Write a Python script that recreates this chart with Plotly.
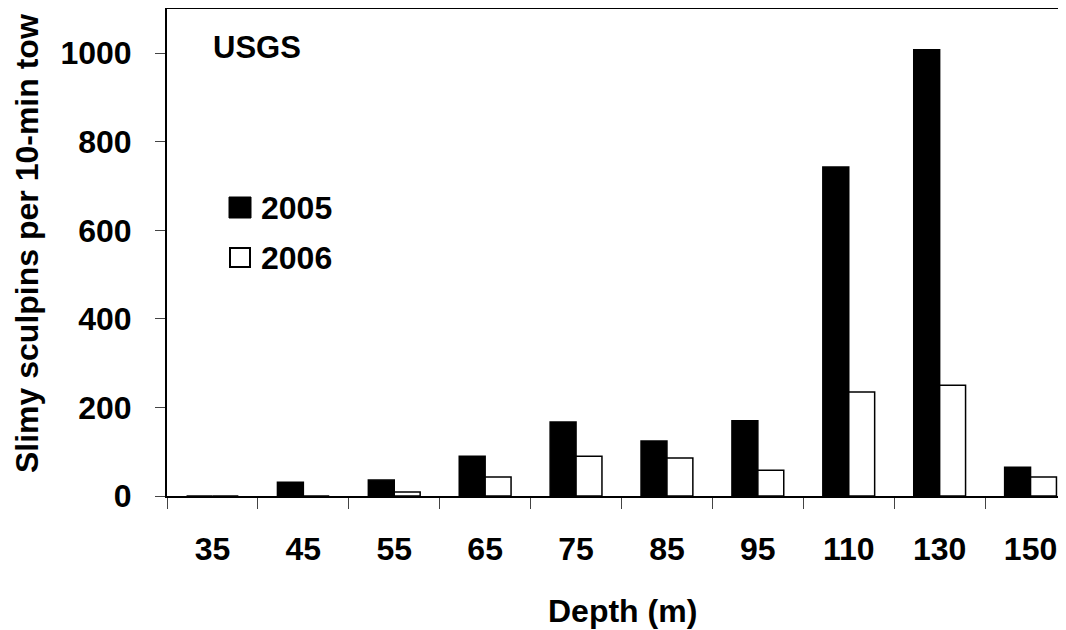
import plotly.graph_objects as go

depths = ["35", "45", "55", "65", "75", "85", "95", "110", "130", "150"]
y2005 = [0, 31, 36, 90, 167, 124, 170, 743, 1008, 65]
y2006 = [0, 0, 9, 43, 90, 86, 58, 235, 250, 43]
series_names = ["2005", "2006"]
y_ticks = [0, 200, 400, 600, 800, 1000]

FONT = "Liberation Sans, Arial, sans-serif"
OFF = 8  # default page body margin
W, H = 1066 - OFF, 630 - OFF
L_WIN, T_WIN, B_WIN = 167, 9, 496
PW = 1066 - L_WIN
PH = B_WIN - T_WIN


def px(x):
    return (x - L_WIN) / PW


def py(y):
    return (B_WIN - y) / PH


fig = go.Figure()
fig.add_trace(go.Bar(x=depths, y=y2005, name=series_names[0],
                     marker=dict(color="black", line=dict(color="black", width=1.5))))
fig.add_trace(go.Bar(x=depths, y=y2006, name=series_names[1],
                     marker=dict(color="white", line=dict(color="black", width=1.5))))

shapes = [
    dict(type="rect", xref="paper", yref="paper", x0=px(229), x1=px(251), y0=py(218), y1=py(197),
         fillcolor="black", line=dict(color="black", width=1)),
    dict(type="rect", xref="paper", yref="paper", x0=px(230), x1=px(250), y0=py(267), y1=py(248),
         fillcolor="white", line=dict(color="black", width=2)),
]

annotations = [
    dict(text="<b>USGS</b>", xref="paper", yref="paper", x=px(257), y=py(47),
         xanchor="center", yanchor="middle", showarrow=False, font=dict(size=31, color="black", family=FONT)),
    dict(text="<b>2005</b>", xref="paper", yref="paper", x=px(259), y=py(208),
         xanchor="left", yanchor="middle", showarrow=False, font=dict(size=32, color="black", family=FONT)),
    dict(text="<b>2006</b>", xref="paper", yref="paper", x=px(259), y=py(258),
         xanchor="left", yanchor="middle", showarrow=False, font=dict(size=32, color="black", family=FONT)),
    dict(text="<b>Slimy sculpins per 10-min tow</b>", xref="paper", yref="paper", x=px(27), y=py(244),
         xanchor="center", yanchor="middle", textangle=-90, showarrow=False,
         font=dict(size=32, color="black", family=FONT)),
    dict(text="<b>Depth (m)</b>", xref="paper", yref="paper", x=px(622), y=py(611),
         xanchor="center", yanchor="middle", showarrow=False, font=dict(size=32, color="black", family=FONT)),
]

fig.update_layout(
    width=W, height=H,
    margin=dict(l=L_WIN - OFF, r=0, t=T_WIN - OFF, b=H - (B_WIN - OFF), pad=0),
    paper_bgcolor="white", plot_bgcolor="white",
    barmode="group", bargap=0.43, bargroupgap=0,
    showlegend=False,
    shapes=shapes, annotations=annotations,
    font=dict(family=FONT, color="black"),
)
fig.update_xaxes(
    type="category", range=[-0.5, 9.39],
    tickson="boundaries", ticks="outside", ticklen=11, tickwidth=1, tickcolor="#444",
    showline=True, linecolor="black", linewidth=2, mirror=True,
    showgrid=False, zeroline=False,
    tickfont=dict(size=32, family=FONT, color="black", weight="bold"),
    ticklabelstandoff=24,
)
fig.update_yaxes(
    range=[0, 1100], tickvals=y_ticks, ticks="outside", ticklen=10, tickwidth=1, tickcolor="#444",
    showline=True, linecolor="black", linewidth=2,
    showgrid=False, zeroline=False,
    tickfont=dict(size=32, family=FONT, color="black", weight="bold"),
    ticklabelstandoff=17,
)

fig.write_html("out.html")
